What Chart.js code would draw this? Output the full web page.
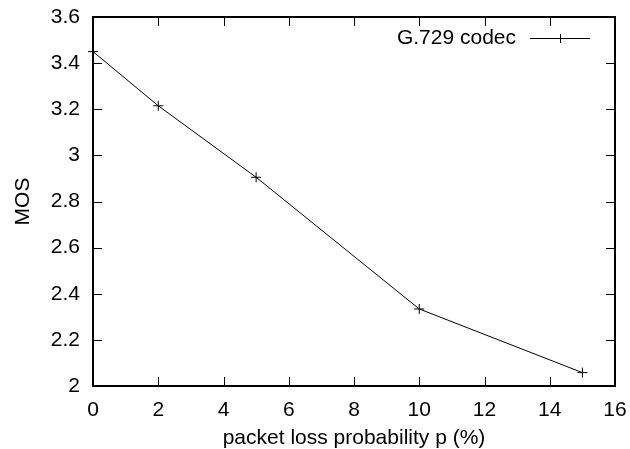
<!DOCTYPE html>
<html>
<head>
<meta charset="utf-8">
<script src="https://cdn.jsdelivr.net/npm/chart.js@4/dist/chart.umd.min.js"></script>
<style>
  html, body { margin: 0; padding: 0; background: #fff; }
  #wrap { width: 630px; height: 449px; }
</style>
</head>
<body>
<div id="wrap"><canvas id="mosChart"></canvas></div>
<script>
// packet loss (%) vs MOS
const lossValues = [0, 2, 5, 10, 15];
const mosValues = [3.45, 3.215, 2.905, 2.334, 2.058];
const seriesLabel = "G.729 codec";
const xTitle = "packet loss probability p (%)";
const yTitle = "MOS";

const FONT = "'Liberation Sans', Arial, sans-serif";
const FSIZE = 21;

// gnuplot style frame: border box + inward ticks on all four sides
const framePlugin = {
    id: "frame",
    afterDatasetsDraw(chart) {
        const { ctx, chartArea: a, scales } = chart;
        const len = 9;
        ctx.save();
        ctx.strokeStyle = "#000";
        ctx.lineWidth = 1;
        ctx.beginPath();
        scales.x.ticks.forEach((t) => {
            const px = Math.round(scales.x.getPixelForValue(t.value)) + 0.5;
            ctx.moveTo(px, a.bottom); ctx.lineTo(px, a.bottom - len);
            ctx.moveTo(px, a.top); ctx.lineTo(px, a.top + len);
        });
        scales.y.ticks.forEach((t) => {
            const py = Math.round(scales.y.getPixelForValue(t.value)) + 0.5;
            ctx.moveTo(a.left, py); ctx.lineTo(a.left + len, py);
            ctx.moveTo(a.right, py); ctx.lineTo(a.right - len, py);
        });
        ctx.stroke();
        ctx.lineWidth = 2;
        ctx.strokeRect(a.left, a.top, a.right - a.left, a.bottom - a.top);

        // legend: text then line sample with marker
        const ds = chart.data.datasets[0];
        const ly = a.top + 21;
        ctx.font = FSIZE + "px " + FONT;
        ctx.fillStyle = "#000";
        ctx.textAlign = "right";
        ctx.textBaseline = "middle";
        ctx.fillText(ds.label, 516, ly);
        ctx.lineWidth = 1;
        ctx.beginPath();
        ctx.moveTo(530, ly + 0.5); ctx.lineTo(590, ly + 0.5);
        ctx.moveTo(560.5, ly - 4); ctx.lineTo(560.5, ly + 5);
        ctx.moveTo(556, ly + 0.5); ctx.lineTo(565, ly + 0.5);
        ctx.stroke();
        ctx.restore();
    },
};

const ctx = document.getElementById("mosChart").getContext("2d");

new Chart(ctx, {
    type: "line",
    data: {
        datasets: [
            {
                label: seriesLabel,
                data: lossValues.map((x, i) => ({ x: x, y: mosValues[i] })),
                borderColor: "#000",
                borderWidth: 1,
                pointStyle: "cross",
                pointRadius: 5,
                pointBorderColor: "#000",
                pointBorderWidth: 1,
                tension: 0,
                fill: false,
                clip: false,
            },
        ],
    },
    options: {
        responsive: true,
        maintainAspectRatio: false,
        animation: false,
        layout: { padding: { top: 17, right: 15, left: 0, bottom: 0 } },
        scales: {
            x: {
                type: "linear",
                min: 0,
                max: 16,
                ticks: {
                    stepSize: 2,
                    color: "#000",
                    padding: 12,
                    maxRotation: 0,
                    font: { family: FONT, size: FSIZE },
                },
                grid: { drawOnChartArea: false, drawTicks: false },
                border: { display: false },
                title: {
                    display: true,
                    text: xTitle,
                    color: "#000",
                    font: { family: FONT, size: FSIZE, lineHeight: 1 },
                    padding: { top: 0, bottom: 0 },
                },
                afterFit(scale) {
                    scale.height = 63;
                    scale.paddingLeft = 0;
                    scale.paddingRight = 0;
                },
            },
            y: {
                min: 2,
                max: 3.6,
                ticks: {
                    stepSize: 0.2,
                    color: "#000",
                    padding: 13,
                    font: { family: FONT, size: FSIZE },
                    callback: (v) => String(Math.round(v * 10) / 10),
                },
                grid: { drawOnChartArea: false, drawTicks: false },
                border: { display: false },
                title: {
                    display: true,
                    text: yTitle,
                    color: "#000",
                    font: { family: FONT, size: FSIZE, lineHeight: 1 },
                    padding: { top: 13, bottom: 0 },
                },
                afterFit(scale) {
                    scale.width = 93;
                    scale.paddingTop = 0;
                    scale.paddingBottom = 0;
                },
            },
        },
        plugins: {
            legend: { display: false },
            tooltip: { enabled: false },
        },
    },
    plugins: [framePlugin],
});
</script>
</body>
</html>
